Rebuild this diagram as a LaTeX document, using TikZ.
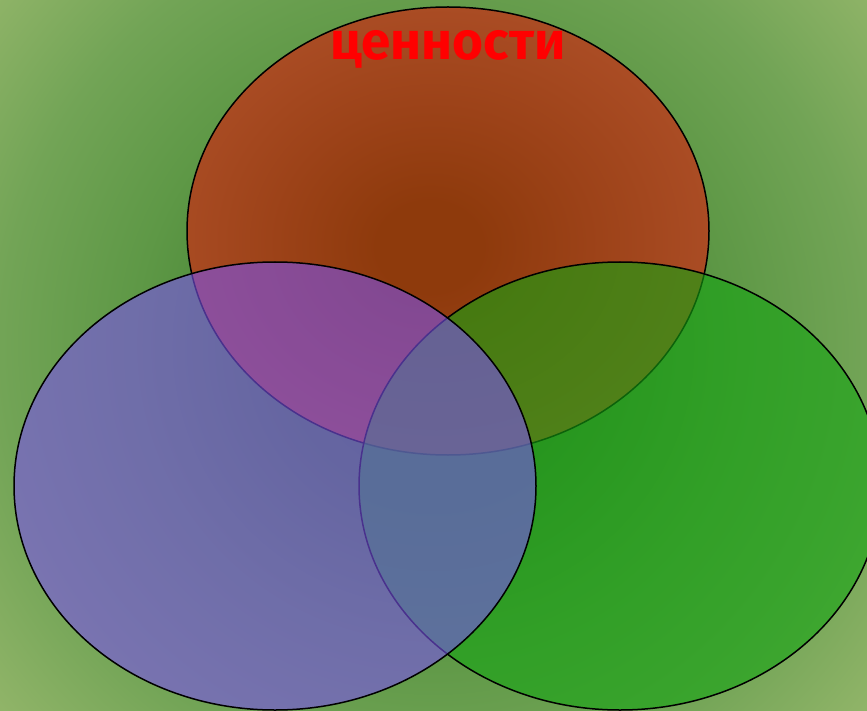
\documentclass[tikz,border=0pt]{standalone}
\usepackage{fontspec}
\newfontfamily\titlefont{Fira Sans}
\definecolor{bgdark}{RGB}{62,124,46}
\definecolor{bgdark2}{RGB}{68,130,50}
\definecolor{bgmid}{RGB}{94,152,70}
\definecolor{bgmid2}{RGB}{114,164,86}
\definecolor{bglight}{RGB}{144,180,104}
\definecolor{topin}{RGB}{142,58,12}
\definecolor{topmid}{RGB}{156,66,24}
\definecolor{topout}{RGB}{170,76,36}
\definecolor{bluefill}{RGB}{123,82,235}
\definecolor{greenfill}{RGB}{20,164,18}
\definecolor{titlered}{RGB}{255,0,0}
\pgfdeclareradialshading{bgshade}{\pgfpoint{0bp}{0bp}}{color(0bp)=(bgdark); color(6bp)=(bgdark2); color(12.5bp)=(bgmid); color(18bp)=(bgmid2); color(23.5bp)=(bglight); color(50bp)=(bglight)}
\pgfdeclareradialshading{topshade}{\pgfpoint{-2bp}{-2bp}}{color(0bp)=(topin); color(5bp)=(topin); color(15bp)=(topmid); color(26bp)=(topout); color(50bp)=(topout)}
\tikzset{
  venn/.style={line width=1.5pt, draw=black},
  semifill/.style={fill opacity=0.6},
}
\begin{document}
\begin{tikzpicture}[x=1pt,y=-1pt]
\useasboundingbox (0,0) rectangle (867,711);
\clip (0,0) rectangle (867,711);
\shade[shading=bgshade] (433,345) circle [radius=600];
% top ellipse
\shade[shading=topshade] (448,231) ellipse [x radius=261, y radius=224];
\draw[venn] (448,231) ellipse [x radius=261, y radius=224];
% green ellipse
\fill[greenfill, semifill] (620,486) ellipse [x radius=261, y radius=224];
\draw[venn] (620,486) ellipse [x radius=261, y radius=224];
% blue ellipse
\fill[bluefill, semifill] (275,486) ellipse [x radius=261, y radius=224];
\draw[venn] (275,486) ellipse [x radius=261, y radius=224];
\node[text=titlered, inner sep=0pt, anchor=base] (title) at (448,60) {\resizebox{235pt}{!}{\titlefont\bfseries ценности}};
\end{tikzpicture}
\end{document}
